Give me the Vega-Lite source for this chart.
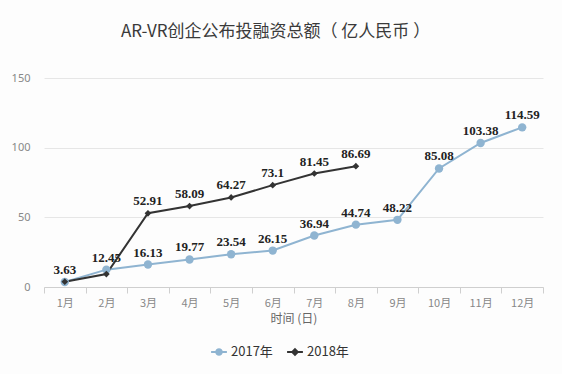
{
  "$schema": "https://vega.github.io/schema/vega-lite/v6.json",
  "width": 499,
  "height": 209,
  "autosize": "none",
  "padding": {"left": 44, "top": 78, "right": 19, "bottom": 87},
  "background": "#fdfdfd",
  "title": {
    "text": "AR-VR创企公布投融资总额（ 亿人民币 ）",
    "font": "Noto Sans CJK SC",
    "fontSize": 17,
    "fontWeight": "normal",
    "color": "#3a3a3a",
    "anchor": "middle",
    "dx": -18,
    "offset": 31
  },
  "config": {"view": {"stroke": null}},
  "data": {
    "values": [
      {"month": "1月", "series": "2017年", "value": 3.63, "label": "3.63"},
      {"month": "2月", "series": "2017年", "value": 12.45, "label": "12.45"},
      {"month": "3月", "series": "2017年", "value": 16.13, "label": "16.13"},
      {"month": "4月", "series": "2017年", "value": 19.77, "label": "19.77"},
      {"month": "5月", "series": "2017年", "value": 23.54, "label": "23.54"},
      {"month": "6月", "series": "2017年", "value": 26.15, "label": "26.15"},
      {"month": "7月", "series": "2017年", "value": 36.94, "label": "36.94"},
      {"month": "8月", "series": "2017年", "value": 44.74, "label": "44.74"},
      {"month": "9月", "series": "2017年", "value": 48.22, "label": "48.22"},
      {"month": "10月", "series": "2017年", "value": 85.08, "label": "85.08"},
      {"month": "11月", "series": "2017年", "value": 103.38, "label": "103.38"},
      {"month": "12月", "series": "2017年", "value": 114.59, "label": "114.59"},
      {"month": "1月", "series": "2018年", "value": 3.8, "label": null},
      {"month": "2月", "series": "2018年", "value": 9.3, "label": null},
      {"month": "3月", "series": "2018年", "value": 52.91, "label": "52.91"},
      {"month": "4月", "series": "2018年", "value": 58.09, "label": "58.09"},
      {"month": "5月", "series": "2018年", "value": 64.27, "label": "64.27"},
      {"month": "6月", "series": "2018年", "value": 73.1, "label": "73.1"},
      {"month": "7月", "series": "2018年", "value": 81.45, "label": "81.45"},
      {"month": "8月", "series": "2018年", "value": 86.69, "label": "86.69"}
    ]
  },
  "encoding": {
    "x": {
      "field": "month",
      "type": "nominal",
      "sort": ["1月","2月","3月","4月","5月","6月","7月","8月","9月","10月","11月","12月"],
      "scale": {"paddingInner": 0, "paddingOuter": 0},
      "axis": {
        "title": "时间 (日)",
        "titleFont": "Noto Sans CJK SC",
        "titleFontSize": 12,
        "titleFontWeight": "normal",
        "titleColor": "#666",
        "titlePadding": 5,
        "labelAngle": 0,
        "labelFont": "Noto Sans CJK SC",
        "labelFontSize": 11,
        "labelColor": "#888",
        "labelPadding": 4,
        "tickBand": "extent",
        "ticks": true,
        "tickSize": 6,
        "tickColor": "#cfcfcf",
        "domainColor": "#cfcfcf",
        "grid": false
      }
    },
    "y": {
      "field": "value",
      "type": "quantitative",
      "scale": {"domain": [0, 150], "nice": false},
      "axis": {
        "title": null,
        "values": [0, 50, 100, 150],
        "domain": false,
        "ticks": false,
        "labelPadding": 14,
        "labelFont": "Noto Sans",
        "labelFontSize": 11,
        "labelColor": "#888",
        "gridColor": "#e6e6e6"
      }
    }
  },
  "layer": [
    {
      "mark": {"type": "line", "strokeWidth": 2},
      "encoding": {
        "color": {
          "field": "series",
          "type": "nominal",
          "scale": {"domain": ["2017年", "2018年"], "range": ["#8fb4d1", "#333333"]},
          "legend": {
            "title": null,
            "orient": "none",
            "legendX": 166,
            "legendY": 265,
            "direction": "horizontal",
            "labelFont": "Noto Sans CJK SC",
            "labelFontSize": 13,
            "labelColor": "#333",
            "labelOffset": 3,
            "symbolSize": 250,
            "symbolStrokeWidth": 2,
            "columnPadding": 10,
            "encode": {
              "symbols": {
                "update": {
                  "shape": {"signal": "datum.value === '2017年' ? 'M-1,0L1,0M-0.35,0A0.35,0.35,0,1,1,0.35,0A0.35,0.35,0,1,1,-0.35,0Z' : 'M-1,0L1,0M0,-0.35L0.35,0L0,0.35L-0.35,0Z'"},
                  "fill": {"scale": "color", "field": "value"}
                }
              }
            }
          }
        }
      }
    },
    {
      "transform": [{"filter": "datum.series === '2017年'"}],
      "mark": {"type": "point", "filled": true, "opacity": 1, "shape": "circle", "size": 70},
      "encoding": {
        "color": {"field": "series", "type": "nominal", "legend": null}
      }
    },
    {
      "transform": [{"filter": "datum.series === '2018年'"}],
      "mark": {"type": "point", "filled": true, "opacity": 1, "shape": "diamond", "size": 45},
      "encoding": {
        "color": {"field": "series", "type": "nominal", "legend": null}
      }
    },
    {
      "transform": [{"filter": "datum.label != null"}],
      "mark": {
        "type": "text",
        "dy": -12,
        "font": "Liberation Serif",
        "fontSize": 13,
        "fontWeight": "bold",
        "color": "#222"
      },
      "encoding": {"text": {"field": "label"}}
    }
  ]
}
